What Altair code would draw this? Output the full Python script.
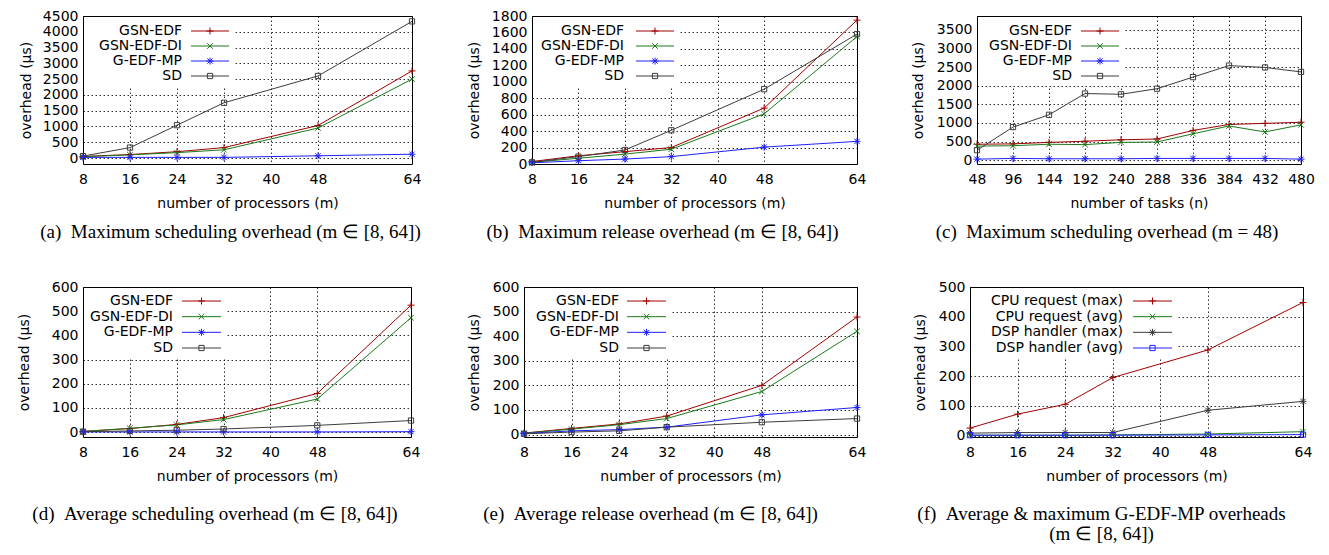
import altair as alt
import pandas as pd

# ---------------- data ----------------
m_values = [8, 16, 24, 32, 48, 64]
n_values = [48, 96, 144, 192, 240, 288, 336, 384, 432, 480]
m_ticks = [8, 16, 24, 32, 40, 48, 64]

series_main = ["GSN-EDF", "GSN-EDF-DI", "G-EDF-MP", "SD"]
series_f = ["CPU request (max)", "CPU request (avg)", "DSP handler (max)", "DSP handler (avg)"]

# (a) maximum scheduling overhead
a_gsn = [50, 110, 200, 330, 1030, 2760]
a_gsn_di = [40, 100, 170, 260, 950, 2500]
a_gedf_mp = [20, 20, 20, 20, 70, 120]
a_sd = [60, 330, 1040, 1750, 2600, 4330]

# (b) maximum release overhead
b_gsn = [30, 100, 150, 200, 680, 1750]
b_gsn_di = [20, 70, 120, 180, 610, 1550]
b_gedf_mp = [15, 40, 60, 90, 205, 275]
b_sd = [20, 90, 170, 410, 910, 1580]

# (c) maximum scheduling overhead, m = 48
c_gsn = [430, 440, 480, 510, 550, 570, 800, 960, 990, 1020]
c_gsn_di = [380, 390, 430, 420, 480, 490, 710, 920, 760, 950]
c_gedf_mp = [30, 50, 40, 40, 40, 50, 50, 50, 50, 30]
c_sd = [270, 890, 1220, 1790, 1770, 1920, 2230, 2540, 2490, 2370]

# (d) average scheduling overhead
d_gsn = [3, 15, 32, 60, 160, 525]
d_gsn_di = [3, 16, 30, 52, 137, 473]
d_gedf_mp = [1, 1, 1, 1, 1, 2]
d_sd = [2, 5, 8, 13, 28, 48]

# (e) average release overhead
e_gsn = [6, 25, 43, 75, 200, 478]
e_gsn_di = [5, 22, 40, 65, 175, 420]
e_gedf_mp = [4, 15, 20, 30, 80, 110]
e_sd = [3, 10, 15, 30, 50, 65]

# (f) G-EDF-MP overheads
f_cpu_max = [25, 72, 105, 195, 288, 448]
f_cpu_avg = [1, 1, 1, 2, 5, 13]
f_dsp_max = [8, 10, 10, 10, 85, 115]
f_dsp_avg = [1, 1, 1, 1, 2, 3]

# ---------------- styles ----------------
RED = "#a00000"
GREEN = "#1a7a1a"
BLUE = "#2020ff"
GRAY = "#3c3c3c"
PLUS = "M-1,0L1,0M0,-1L0,1"
CROSS = "M-0.8,-0.8L0.8,0.8M-0.8,0.8L0.8,-0.8"
STAR = "M-1,0L1,0M0,-1L0,1M-0.75,-0.75L0.75,0.75M-0.75,0.75L0.75,-0.75"
SQUARE = "M-0.75,-0.75L0.75,-0.75L0.75,0.75L-0.75,0.75Z"

SANS = "DejaVu Sans"
SERIF = "Liberation Serif"
FS = 14


def panel(xvals, names, values, colors, shapes, xdomain, xticks, ydomain, yticks,
          width, height, xtitle, caption, cap_dx, cap_offset, title_x,
          leg_text_r, leg_line0, leg_line1, leg_box_r, leg_rows):
    rows = []
    for name, vals in zip(names, values):
        for xv, yv in zip(xvals, vals):
            rows.append({"x": xv, "y": yv, "s": name})
    df = pd.DataFrame(rows)
    leg_df = pd.DataFrame({"s": names})

    color = alt.Color("s:N", scale=alt.Scale(domain=names, range=colors), legend=None)
    shape = alt.Shape("s:N", scale=alt.Scale(domain=names, range=shapes), legend=None)

    xenc = alt.X("x:Q", scale=alt.Scale(domain=xdomain, nice=False, zero=False),
                 axis=alt.Axis(values=xticks, title=xtitle, grid=True, ticks=False,
                               domain=False, labelPadding=8, titlePadding=10,
                               labelFlush=False, labelOverlap=False, format="d"))
    yenc = alt.Y("y:Q", scale=alt.Scale(domain=ydomain, nice=False, zero=False),
                 axis=alt.Axis(values=yticks, title="overhead (µs)", grid=True, ticks=False,
                               domain=False, labelPadding=5, titleX=title_x,
                               titleBaseline="middle", labelFlush=False,
                               labelOverlap=False, format="d"))

    base = alt.Chart(df)
    lines = base.mark_line(strokeWidth=1).encode(x=xenc, y=yenc, color=color, detail="s:N")
    pts = base.mark_point(filled=False, size=49, strokeWidth=1, opacity=1).encode(
        x=xenc, y=yenc, color=color, shape=shape)
    data_layer = alt.layer(lines, pts)

    box = alt.Chart(leg_df).mark_rect(fill="white", stroke=None).encode(
        x=alt.value(1), x2=alt.value(leg_box_r), y=alt.value(1),
        y2=alt.value(leg_rows[1] + 10))

    ly = alt.Y("s:N", scale=alt.Scale(type="point", domain=names, range=list(leg_rows), padding=0),
               axis=None)
    lleg = alt.Chart(leg_df)
    leg_lines = lleg.mark_rule(strokeWidth=1).encode(
        x=alt.value(leg_line0), x2=alt.value(leg_line1), y=ly, color=color)
    leg_pts = lleg.mark_point(filled=False, size=49, strokeWidth=1, opacity=1).encode(
        x=alt.value((leg_line0 + leg_line1) / 2), y=ly, color=color, shape=shape)
    leg_txt = lleg.mark_text(align="right", baseline="middle", font=SANS, fontSize=FS,
                             color="black").encode(x=alt.value(leg_text_r), y=ly, text="s:N")
    leg_layer = alt.layer(leg_lines, leg_pts, leg_txt)

    return alt.layer(box, data_layer, leg_layer).resolve_scale(y="independent").properties(
        width=width, height=height,
        title=alt.TitleParams(caption, orient="bottom", anchor="middle", frame="group",
                              font=SERIF, fontSize=19, fontWeight="normal", color="black",
                              dx=cap_dx, offset=cap_offset, lineHeight=20),
    )


main_colors = [RED, GREEN, BLUE, GRAY]
main_shapes = [PLUS, CROSS, STAR, SQUARE]
f_colors = [RED, GREEN, GRAY, BLUE]
SP = "\u2002"

pa = panel(m_values, series_main, [a_gsn, a_gsn_di, a_gedf_mp, a_sd], main_colors, main_shapes,
           [8, 64], m_ticks, [-190, 4500], list(range(0, 4501, 500)), 329, 148,
           "number of processors (m)", f"(a){SP}Maximum scheduling overhead (m ∈ [8, 64])", -17, 13, -57,
           99, 108, 146, 150, (15, 60))
pb = panel(m_values, series_main, [b_gsn, b_gsn_di, b_gedf_mp, b_sd], main_colors, main_shapes,
           [8, 64], m_ticks, [0, 1800], list(range(0, 1801, 200)), 325, 148,
           "number of processors (m)", f"(b){SP}Maximum release overhead (m ∈ [8, 64])", -32, 13, -58,
           92, 104, 142, 146, (15, 60))
pc = panel(n_values, series_main, [c_gsn, c_gsn_di, c_gedf_mp, c_sd], main_colors, main_shapes,
           [48, 480], n_values, [-100, 3870], list(range(0, 3501, 500)), 324, 148,
           "number of tasks (n)", f"(c){SP}Maximum scheduling overhead (m = 48)", -32, 13, -59,
           95, 104, 142, 146, (15, 60))
pd_ = panel(m_values, series_main, [d_gsn, d_gsn_di, d_gedf_mp, d_sd], main_colors, main_shapes,
            [8, 64], m_ticks, [-20, 600], list(range(0, 601, 100)), 328, 150,
            "number of processors (m)", f"(d){SP}Average scheduling overhead (m ∈ [8, 64])", -32, 22, -59,
            90, 99, 138, 144, (14, 61))
pe = panel(m_values, series_main, [e_gsn, e_gsn_di, e_gedf_mp, e_sd], main_colors, main_shapes,
           [8, 64], m_ticks, [-10, 600], list(range(0, 601, 100)), 333, 150,
           "number of processors (m)", f"(e){SP}Average release overhead (m ∈ [8, 64])", -40, 22, -50,
           95, 103, 142, 148, (14, 61))
pf = panel(m_values, series_f, [f_cpu_max, f_cpu_avg, f_dsp_max, f_dsp_avg], f_colors, main_shapes,
           [8, 64], m_ticks, [-5, 500], list(range(0, 501, 100)), 333, 150,
           "number of processors (m)",
           [f"(f){SP}Average & maximum G-EDF-MP overheads", "(m ∈ [8, 64])"], -35, 22, -50,
           153, 163, 202, 207, (14, 61))

row1 = alt.hconcat(pa, pb, pc, spacing=120, bounds="flush").resolve_scale(
    color="independent", shape="independent")
row2 = alt.hconcat(pd_, pe, pf, spacing=113, bounds="flush").resolve_scale(
    color="independent", shape="independent")

chart = alt.concat(row1, row2, columns=1, spacing=36, align="none").resolve_scale(
    color="independent", shape="independent"
).configure(
    padding={"left": 8, "top": 0, "right": 0, "bottom": 0}, background="white"
).configure_view(
    stroke="black", strokeWidth=1
).configure_axis(
    labelFont=SANS, labelFontSize=FS, labelColor="black", labelOverlap=False,
    titleFont=SANS, titleFontSize=FS, titleFontWeight="normal", titleColor="black",
    gridColor="black", gridDash=[1.5, 2.5], gridOpacity=0.8, gridWidth=1,
)

chart.save("out.html", embed_options={"renderer": "svg", "actions": False})
